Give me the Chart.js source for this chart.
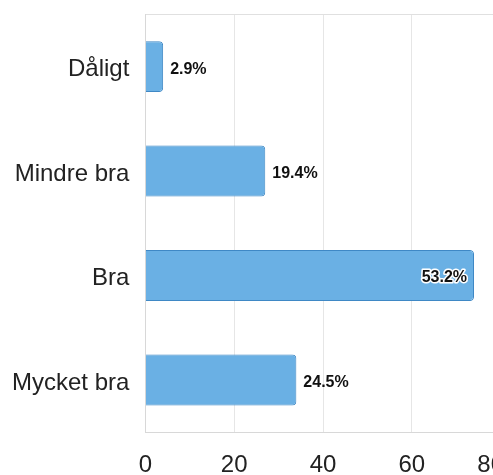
<!DOCTYPE html>
<html>
<head>
<meta charset="utf-8">
<script src="https://cdn.jsdelivr.net/npm/chart.js@4"></script>
<style>
  html, body { margin: 0; padding: 0; overflow: hidden; background: #fff; }
  #wrap { width: 559px; height: 515px; margin: -16px 0 0 -16px; }
</style>
</head>
<body>
<div id="wrap"><canvas id="ratingChart" width="559" height="515"></canvas></div>
<script>
const categories = ['Dåligt', 'Mindre bra', 'Bra', 'Mycket bra'];
const counts = [4, 27, 74, 34];
const xTicks = [0, 20, 40, 60, 80];

const total = counts.reduce((a, b) => a + b, 0);

// percentage labels at the end of each bar
const barLabels = {
    id: 'barLabels',
    afterDatasetsDraw(chart) {
        const ctx = chart.ctx;
        const meta = chart.getDatasetMeta(0);
        const area = chart.chartArea;
        ctx.save();
        ctx.font = 'bold 16px "Liberation Sans", Arial, sans-serif';
        ctx.textBaseline = 'middle';
        meta.data.forEach(function (bar, i) {
            const text = (counts[i] / total * 100).toFixed(1) + '%';
            const w = ctx.measureText(text).width;
            const y = bar.y + 2.5;
            if (bar.x + 7 + w > area.right) {
                ctx.textAlign = 'right';
                ctx.lineWidth = 3;
                ctx.strokeStyle = '#fff';
                ctx.lineJoin = 'round';
                ctx.strokeText(text, bar.x - 7, y);
                ctx.fillStyle = '#111';
                ctx.fillText(text, bar.x - 7, y);
            } else {
                ctx.textAlign = 'left';
                ctx.fillStyle = '#111';
                ctx.fillText(text, bar.x + 7, y);
            }
        });
        ctx.restore();
    }
};

new Chart(document.getElementById('ratingChart').getContext('2d'), {
    type: 'bar',
    data: {
        labels: categories,
        datasets: [{
            data: counts,
            backgroundColor: '#6ab0e4',
            borderColor: '#3f88c5',
            borderWidth: 1,
            borderRadius: 4,
            categoryPercentage: 0.8,
            barPercentage: 0.61
        }]
    },
    options: {
        indexAxis: 'y',
        responsive: false,
        animation: false,
        layout: { padding: { left: 12, top: 14, right: 0, bottom: 0 } },
        plugins: {
            legend: { display: false },
            tooltip: { enabled: false }
        },
        scales: {
            x: {
                min: xTicks[0],
                max: xTicks[xTicks.length - 1],
                afterBuildTicks: function (axis) {
                    axis.ticks = xTicks.map(v => ({ value: v }));
                },
                grid: { color: '#e6e6e6', drawTicks: false },
                border: { color: '#d8d8d8' },
                ticks: {
                    padding: 19,
                    color: '#222',
                    font: { family: '"Liberation Sans", Arial, sans-serif', size: 24 },
                    // last label sits pulled in from the edge, as in the source
                    callback: (v, i, ticks) => i === ticks.length - 1 ? v + '\u00a0\u00a0\u00a0' : String(v)
                }
            },
            y: {
                grid: {
                    drawTicks: false,
                    color: c => c.index === 0 ? '#e0e0e0' : 'transparent'
                },
                border: { color: '#d8d8d8' },
                ticks: {
                    padding: 16,
                    labelOffset: 3,
                    color: '#222',
                    font: { family: '"Liberation Sans", Arial, sans-serif', size: 24 }
                }
            }
        }
    },
    plugins: [barLabels]
});
</script>
</body>
</html>
